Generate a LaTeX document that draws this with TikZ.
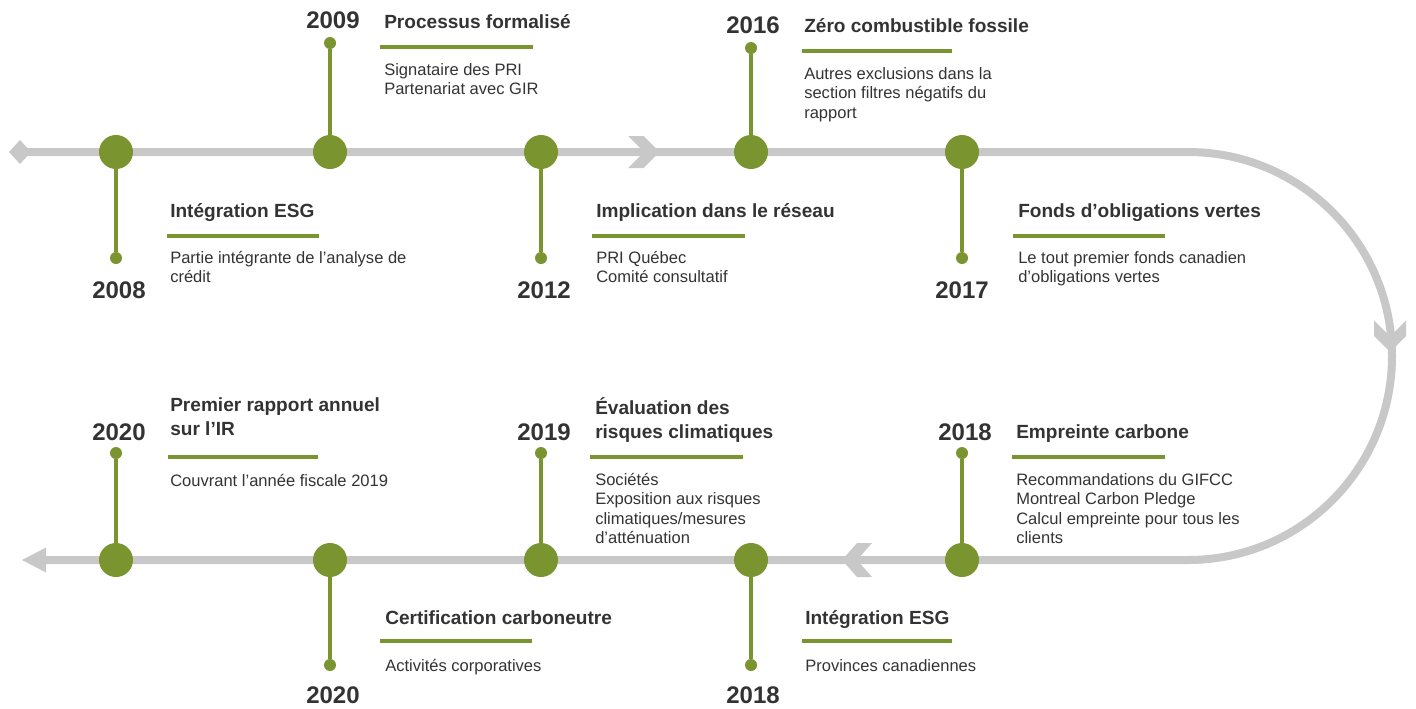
\documentclass[tikz,border=0pt]{standalone}
\usepackage{fontspec}
\setmainfont{Liberation Sans}
\definecolor{tlgreen}{RGB}{122,148,48}
\definecolor{trackgray}{RGB}{200,200,200}
\definecolor{txt}{RGB}{51,51,51}
\begin{document}
\begin{tikzpicture}[x=0.75pt,y=-0.75pt,
  bigdot/.style={circle,fill=tlgreen,inner sep=0pt,minimum size=25.5pt},
  smalldot/.style={circle,fill=tlgreen,inner sep=0pt,minimum size=9pt},
  stem/.style={draw=tlgreen,line width=3pt},
  hrule/.style={draw=tlgreen,line width=3pt},
  track/.style={draw=trackgray,line width=6pt},
  head/.style={anchor=north west,inner sep=0pt,align=left,text=txt,
    font=\fontsize{14.3}{18.4}\selectfont\bfseries,execute at begin node=\strut},
  body/.style={anchor=north west,inner sep=0pt,align=left,text=txt,
    font=\fontsize{12.4}{14.6}\selectfont,execute at begin node=\strut},
  year/.style={anchor=base,inner sep=0pt,text=txt,
    font=\fontsize{18}{20}\selectfont\bfseries}]
\useasboundingbox (0,0) rectangle (1416,708);
% track
\coordinate (tstart) at (20,152);
\coordinate (tcurve) at (1188,152);
\coordinate (bend) at (44,560);
\draw[track] (tstart) -- (tcurve) arc[start angle=-90,end angle=90,radius=204] -- (bend);
\fill[trackgray] (9,152) -- (20,140) -- (31,152) -- (20,164) -- cycle;
\fill[trackgray] (22,560) -- (46,547.5) -- (46,572.5) -- cycle;
\fill[trackgray] (628,136) -- (643.5,136) -- (659.5,152) -- (643.5,168) -- (628,168) -- (644,152) -- cycle;
\fill[trackgray] (872,543) -- (857,543) -- (842,560) -- (857,577) -- (872,577) -- (857,560) -- cycle;
\fill[trackgray] (1374,320.5) -- (1374,336) -- (1390,352) -- (1406,336) -- (1406,320.5) -- (1390,336.5) -- cycle;
% dots
\foreach \n/\x/\y/\sx/\sy in {a/116/152/116/258, b/330/152/330/43, c/541/152/541/258, d/751/152/751/48, e/962/152/962/258,
  f/962/560/962/453, g/751/560/751/665, h/541/560/541/453, i/330/560/330/665, j/116/560/116/453}{
  \node[bigdot] (big\n) at (\x,\y) {};
  \node[smalldot] (small\n) at (\sx,\sy) {};
  \draw[stem] (big\n) -- (small\n);
}
% years
\node[year] (ya) at (119,298) {2008};
\node[year] (yb) at (333,28) {2009};
\node[year] (yc) at (544,298) {2012};
\node[year] (yd) at (753,33) {2016};
\node[year] (ye) at (962,298) {2017};
\node[year] (yf) at (965,440) {2018};
\node[year] (yg) at (753,703) {2018};
\node[year] (yh) at (544,440) {2019};
\node[year] (yi) at (333,703) {2020};
\node[year] (yj) at (119,440) {2020};
% 2008
\node[head] (ha) at (170,200) {Intégration ESG};
\draw[hrule] (167,236) -- (319,236);
\node[body] (ba) at (170,251) {Partie intégrante de l’analyse de\\crédit};
% 2009
\node[head] (hb) at (384,11) {Processus formalisé};
\draw[hrule] (380,47) -- (533,47);
\node[body] (bb) at (384,63) {Signataire des PRI\\Partenariat avec GIR};
% 2012
\node[head] (hc) at (596,200) {Implication dans le réseau};
\draw[hrule] (592,236) -- (745,236);
\node[body] (bc) at (596,251) {PRI Québec\\Comité consultatif};
% 2016
\node[head] (hd) at (804,15) {Zéro combustible fossile};
\draw[hrule] (802,51) -- (952,51);
\node[body] (bd) at (804,67) {Autres exclusions dans la\\section filtres négatifs du\\rapport};
% 2017
\node[head] (he) at (1018,200) {Fonds d’obligations vertes};
\draw[hrule] (1013,236) -- (1165,236);
\node[body] (be) at (1018,251) {Le tout premier fonds canadien\\d’obligations vertes};
% 2018 upper
\node[head] (hf) at (1016,421) {Empreinte carbone};
\draw[hrule] (1012,457) -- (1165,457);
\node[body] (bf) at (1016,473) {Recommandations du GIFCC\\Montreal Carbon Pledge\\Calcul empreinte pour tous les\\clients};
% 2018 lower
\node[head] (hg) at (805,607) {Intégration ESG};
\draw[hrule] (802,641) -- (952,641);
\node[body] (bg) at (805,658) {Provinces canadiennes};
% 2019
\node[head] (hh) at (595,397) {Évaluation des\\risques climatiques};
\draw[hrule] (590,457) -- (743,457);
\node[body] (bh) at (595,473) {Sociétés\\Exposition aux risques\\climatiques/mesures\\d’atténuation};
% 2020 lower
\node[head] (hi) at (385,607) {Certification carboneutre};
\draw[hrule] (380,641) -- (532,641);
\node[body] (bi) at (385,658) {Activités corporatives};
% 2020 upper
\node[head] (hj) at (170,397) {Premier rapport annuel\\sur l’IR};
\draw[hrule] (168,457) -- (318,457);
\node[body] (bj) at (170,473) {Couvrant l’année fiscale 2019};
\end{tikzpicture}
\end{document}
